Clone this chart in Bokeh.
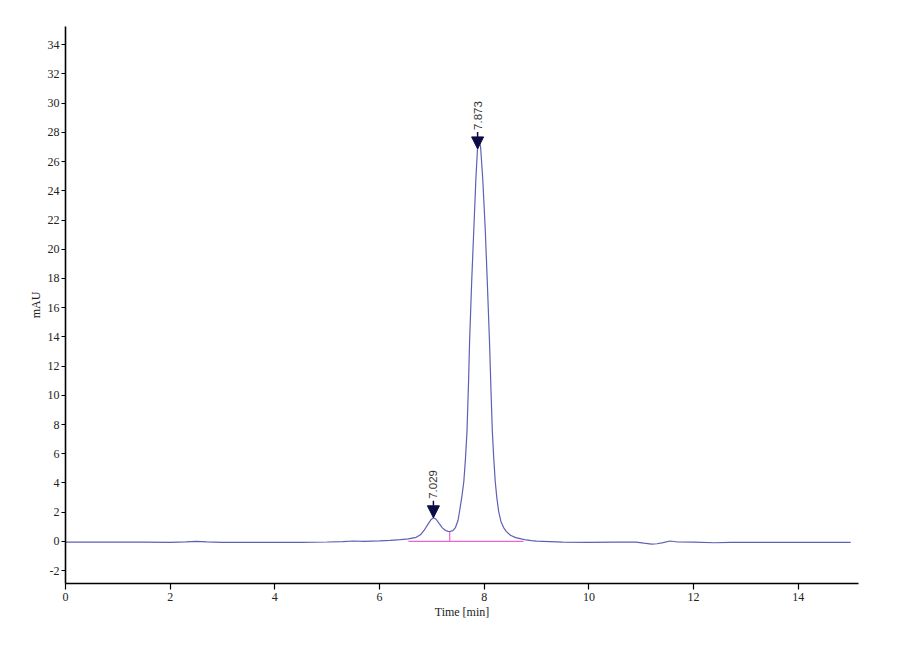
import numpy as np
from bokeh.plotting import figure
from bokeh.models import Range1d, FixedTicker, Arrow, NormalHead, ColumnDataSource
from bokeh.core.properties import value
from bokeh.embed import file_html
from bokeh.resources import INLINE

# ---- data ----
time_min = [0.0, 0.5, 1.0, 1.5, 2.0, 2.3, 2.5, 2.7, 3.0, 3.5, 4.0, 4.5, 5.0, 5.3, 5.5, 5.7,
            6.0, 6.2, 6.4, 6.55, 6.7, 6.78, 6.85, 6.92, 6.98, 7.03, 7.08, 7.14, 7.2, 7.26,
            7.31, 7.34, 7.40, 7.45, 7.50, 7.53, 7.57, 7.61, 7.64, 7.67, 7.70, 7.72, 7.76,
            7.80, 7.84, 7.87, 7.90, 7.93, 7.97, 8.02, 8.06, 8.10, 8.13, 8.155, 8.18, 8.21,
            8.24, 8.275, 8.32, 8.37, 8.42, 8.50, 8.60, 8.71, 8.80, 8.90, 9.00, 9.5, 10.0,
            10.5, 10.9, 11.05, 11.2, 11.3, 11.42, 11.55, 11.7, 12.0, 12.4, 12.7, 13.0, 13.5,
            14.0, 14.5, 15.0]
mau = [-0.05, -0.05, -0.05, -0.05, -0.06, -0.03, 0.01, -0.03, -0.06, -0.06, -0.07, -0.06,
       -0.04, -0.02, 0.03, 0.0, 0.04, 0.07, 0.12, 0.18, 0.28, 0.45, 0.75, 1.15, 1.48, 1.62,
       1.52, 1.22, 0.93, 0.75, 0.69, 0.68, 0.74, 0.95, 1.45, 2.1, 3.0, 4.1, 5.6, 7.5, 10.9,
       13.7, 17.8, 21.3, 24.8, 26.8, 27.5, 27.0, 24.9, 21.3, 17.6, 13.7, 10.2, 7.5, 5.8,
       4.1, 3.0, 2.06, 1.35, 0.95, 0.69, 0.42, 0.26, 0.17, 0.1, 0.05, 0.02, -0.05, -0.06,
       -0.05, -0.05, -0.12, -0.18, -0.16, -0.08, 0.03, -0.04, -0.05, -0.09, -0.07, -0.06,
       -0.06, -0.06, -0.06, -0.06]

peak_labels = ["7.029", "7.873"]
peak_times = [7.029, 7.873]
baseline_span = [6.55, 8.75]
drop_time = 7.34

x_ticks = [0, 2, 4, 6, 8, 10, 12, 14]
y_ticks = [-2, 0, 2, 4, 6, 8, 10, 12, 14, 16, 18, 20, 22, 24, 26, 28, 30, 32, 34]

X_RANGE = (0, 15.15)
Y_RANGE = (-2.88, 35.25)
FRAME_W, FRAME_H = 793, 557

p = figure(frame_width=FRAME_W, frame_height=FRAME_H,
           min_border_left=65, min_border_top=26, min_border_right=30, min_border_bottom=50,
           x_range=Range1d(*X_RANGE), y_range=Range1d(*Y_RANGE),
           output_backend="svg", toolbar_location=None)
p.background_fill_color = "white"
p.border_fill_color = "white"
p.outline_line_color = None
p.xgrid.visible = False
p.ygrid.visible = False

for ax in (p.xaxis, p.yaxis):
    ax.axis_line_color = "black"
    ax.axis_line_width = 1.6
    ax.major_tick_line_color = "black"
    ax.major_tick_line_width = 1.2
    ax.major_tick_in = 0
    ax.minor_tick_in = 0
    ax.minor_tick_out = 0
    ax.major_label_text_font = "Liberation Serif"
    ax.major_label_text_font_size = "12px"
    ax.major_label_text_color = "#222222"
    ax.axis_label_text_font = "Liberation Serif"
    ax.axis_label_text_font_size = "12px"
    ax.axis_label_text_font_style = "normal"
    ax.axis_label_text_color = "#222222"

p.xaxis.ticker = FixedTicker(ticks=x_ticks)
p.yaxis.ticker = FixedTicker(ticks=y_ticks)
p.yaxis.major_label_overrides = {t: str(t).replace("\u2212", "-") for t in y_ticks}
p.xaxis.major_tick_out = 6
p.yaxis.major_tick_out = 4
p.xaxis.major_label_standoff = 3
p.yaxis.major_label_standoff = 2
p.xaxis.axis_label = "Time [min]"
p.yaxis.axis_label = "mAU"
p.xaxis.axis_label_standoff = 1
p.yaxis.axis_label_standoff = 2

# integration baseline and drop line
drop_val = float(np.interp(drop_time, time_min, mau))
p.line(baseline_span, [0, 0], line_color="#e864d0", line_width=1.2)
p.segment(x0=[drop_time], y0=[0], x1=[drop_time], y1=[drop_val],
          line_color="#e864d0", line_width=1.2)

# chromatogram
p.line(time_min, mau, line_color="#5f5fb4", line_width=1.2)

# peak markers
px_per_unit = FRAME_H / (Y_RANGE[1] - Y_RANGE[0])
arrow_len = 17 / px_per_unit
tips = [float(np.interp(t, time_min, mau)) for t in peak_times]
for t, v in zip(peak_times, tips):
    p.add_layout(Arrow(end=NormalHead(size=12, fill_color="#0c0c45", line_color="#0c0c45"),
                       x_start=t, y_start=v + arrow_len, x_end=t, y_end=v,
                       line_color="#0c0c45", line_width=1.5))
src = ColumnDataSource(dict(x=peak_times, y=tips, text=peak_labels))
p.text(x="x", y="y", text="text", source=src, angle=np.pi / 2, y_offset=-19,
       text_align="left", text_baseline="middle",
       text_font=value("Liberation Sans"), text_font_size="11.5px", text_color="#333333")

open("out.html", "w").write(file_html(p, INLINE))
